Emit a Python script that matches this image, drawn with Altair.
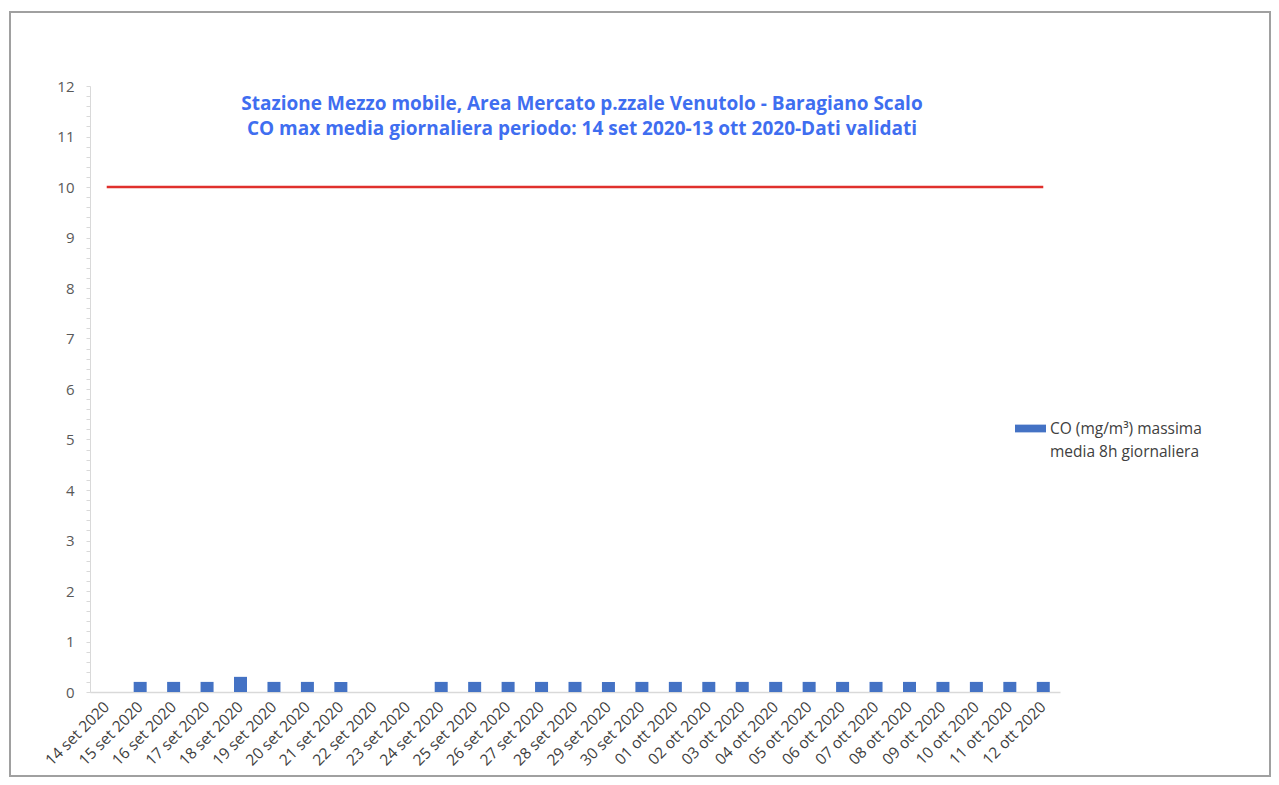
import altair as alt
import pandas as pd

dates = [
    "14 set 2020", "15 set 2020", "16 set 2020", "17 set 2020", "18 set 2020",
    "19 set 2020", "20 set 2020", "21 set 2020", "22 set 2020", "23 set 2020",
    "24 set 2020", "25 set 2020", "26 set 2020", "27 set 2020", "28 set 2020",
    "29 set 2020", "30 set 2020", "01 ott 2020", "02 ott 2020", "03 ott 2020",
    "04 ott 2020", "05 ott 2020", "06 ott 2020", "07 ott 2020", "08 ott 2020",
    "09 ott 2020", "10 ott 2020", "11 ott 2020", "12 ott 2020",
]
co_values = [
    None, 0.2, 0.2, 0.2, 0.3, 0.2, 0.2, 0.2, None, None,
    0.2, 0.2, 0.2, 0.2, 0.2, 0.2, 0.2, 0.2, 0.2, 0.2,
    0.2, 0.2, 0.2, 0.2, 0.2, 0.2, 0.2, 0.2, 0.2,
]
limit_values = [10] * len(dates)
series_name = "CO (mg/m³) massima media 8h giornaliera"
legend_lines = ["CO (mg/m³) massima", "media 8h giornaliera"]
title_lines = [
    "Stazione Mezzo mobile, Area Mercato  p.zzale Venutolo - Baragiano Scalo",
    "CO max media giornaliera periodo: 14 set 2020-13 ott 2020-Dati validati",
]
y_ticks = [round(i * 0.2, 1) for i in range(61)]

df = pd.DataFrame({"data": dates, "co": co_values, "limite": limit_values, "serie": series_name})

FONT = "Open Sans"
x_enc = alt.X(
    "data:N",
    sort=dates,
    title=None,
    scale=alt.Scale(paddingInner=0, paddingOuter=0),
    axis=alt.Axis(
        labelAngle=-45,
        labelFontSize=15.5,
        labelColor="#404040",
        labelFont=FONT,
        labelBaseline="middle",
        labelPadding=12,
        labelOverlap=False,
        ticks=False,
        domainColor="#d9d9d9",
        domainWidth=1.5,
    ),
)

y_enc = alt.Y(
    "co:Q",
    title=None,
    scale=alt.Scale(domain=[0, 12], nice=False),
    axis=alt.Axis(
        values=y_ticks,
        tickCount=100,
        labelExpr="abs(datum.value - round(datum.value)) < 0.01 ? format(datum.value, 'd') : ''",
        labelOverlap=False,
        labelFontSize=15,
        labelColor="#595959",
        labelFont=FONT,
        labelPadding=12,
        tickSize=4,
        tickColor="#d9d9d9",
        domainColor="#d9d9d9",
        grid=False,
    ),
)

bars = alt.Chart(df).mark_bar(size=13).encode(
    x=x_enc,
    y=y_enc,
    color=alt.Color(
        "serie:N",
        scale=alt.Scale(range=["#4472c4"]),
        legend=alt.Legend(
            title=None,
            orient="none",
            legendX=925,
            legendY=327,
            symbolType="M-1,-0.25H1V0.25H-1Z",
            symbolSize=961,
            symbolStrokeWidth=0,
            labelFontSize=15.5,
            labelColor="#404040",
            labelFont=FONT,
            labelLimit=300,
            labelOffset=4,
            labelExpr="['" + legend_lines[0] + "', '" + legend_lines[1] + "']",
        ),
    ),
)

line = alt.Chart(df).mark_line(color="#e0302c", strokeWidth=2.4).encode(
    x=alt.X("data:N", sort=dates),
    y=alt.Y("limite:Q"),
)

frame = alt.Chart(df).mark_rect(fill=None, stroke="#a0a0a0", strokeWidth=1.5).encode(
    x=alt.value(-80), x2=alt.value(1180), y=alt.value(-74), y2=alt.value(690)
)

chart = alt.layer(frame, bars, line).properties(
    width=970,
    height=606,
    autosize=alt.AutoSizeParams(type="none"),
    padding={"left": 82, "top": 78, "right": 211, "bottom": 85},
    title=alt.TitleParams(
        text=title_lines,
        anchor="middle",
        frame="group",
        offset=-128,
        dx=7,
        fontSize=19,
        font=FONT,
        fontWeight="bold",
        color="#3f6ef0",
        lineHeight=25,
    ),
).configure_view(stroke=None, strokeWidth=0).configure_axis(labelOverlap=False).configure(
    style={"guide-label": {"lineHeight": 23}, "cell": {"strokeOpacity": 0}}
)

chart.save("out.html", embed_options={"renderer": "svg", "actions": False})
